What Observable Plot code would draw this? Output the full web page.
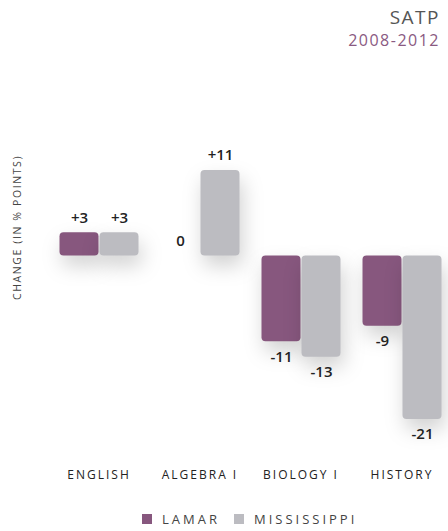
<!DOCTYPE html>
<html>
<head>
<meta charset="utf-8">
<script src="https://cdn.jsdelivr.net/npm/d3@7"></script>
<script src="https://cdn.jsdelivr.net/npm/@observablehq/plot@0.6"></script>
<style>
  html, body { margin: 0; padding: 0; background: #fff; }
  body { width: 448px; height: 531px; overflow: hidden; font-family: "Open Sans", sans-serif; }
  #title { height: 60px; text-align: right; padding-right: 8px; box-sizing: border-box; }
  #title .t1 { font-size: 19px; color: #555; letter-spacing: 1.5px; line-height: 20px; padding-top: 7px; }
  #title .t2 { font-size: 16px; color: #8a5a82; letter-spacing: 1.5px; line-height: 18px; margin-top: 4px; }
  #chart svg { display: block; overflow: visible; }
  #chart g[aria-label="bar"] rect { filter: drop-shadow(3px 10px 10px rgba(0,0,0,0.18)); }
  .fxaxis text { letter-spacing: 2px; }
  .ylab text { letter-spacing: 1.6px; }
  #legend { display: flex; justify-content: flex-start; align-items: center; margin-top: 22px; padding-left: 142px; font-size: 13px; letter-spacing: 3px; color: #444; line-height: 14px; }
  #legend .item { display: flex; align-items: center; margin-right: 14px; }
  #legend .sw { width: 10px; height: 10px; margin-right: 10px; }
</style>
</head>
<body>
<div id="title"><div class="t1">SATP</div><div class="t2">2008-2012</div></div>
<div id="chart"></div>
<div id="legend"></div>
<script>
const subjects = ["ENGLISH", "ALGEBRA I", "BIOLOGY I", "HISTORY"];
const series = ["LAMAR", "MISSISSIPPI"];
const colors = ["#87577e", "#bcbcc1"];
const lamarValues = [3, 0, -11, -9];
const mississippiValues = [3, 11, -13, -21];
const yLabel = "CHANGE (IN % POINTS)";

const data = [];
subjects.forEach((s, i) => {
  data.push({subject: s, series: series[0], value: lamarValues[i]});
  data.push({subject: s, series: series[1], value: mississippiValues[i]});
});
const fmt = v => v > 0 ? "+" + v : String(v);

const plot = Plot.plot({
  width: 448,
  height: 430,
  marginLeft: 57,
  marginRight: 5,
  marginTop: 110,
  marginBottom: 71,
  style: {fontFamily: "Open Sans, sans-serif", background: "transparent", overflow: "visible"},
  fx: {domain: subjects, padding: 0.2, axis: null},
  x: {domain: series, padding: 0, axis: null},
  y: {domain: [-21, 11], axis: null},
  color: {domain: series, range: colors},
  marks: [
    Plot.barY(data, {fx: "subject", x: "series", y: "value", fill: "series", rx: 4, insetLeft: 0.5, insetRight: 0.5}),
    Plot.text(data.filter(d => d.value >= 0), {fx: "subject", x: "series", y: "value", text: d => fmt(d.value), dy: -15, fontSize: 15, fontWeight: 600, fill: "#222"}),
    Plot.text(data.filter(d => d.value < 0), {fx: "subject", x: "series", y: "value", text: d => fmt(d.value), dy: 15, fontSize: 15, fontWeight: 600, fill: "#222"}),
    Plot.axisFx({anchor: "bottom", tickSize: 0, tickPadding: 51, label: null, fontSize: 12, fill: "#222", className: "fxaxis"}),
    Plot.text([yLabel], {fx: [subjects[0]], frameAnchor: "left", rotate: -90, dx: -41, dy: 5, fontSize: 10.5, fill: "#444", className: "ylab"})
  ]
});
document.getElementById("chart").appendChild(plot);

const legend = document.getElementById("legend");
series.forEach((s, i) => {
  const item = document.createElement("div");
  item.className = "item";
  const sw = document.createElement("span");
  sw.className = "sw";
  sw.style.background = colors[i];
  const lab = document.createElement("span");
  lab.textContent = s;
  item.appendChild(sw);
  item.appendChild(lab);
  legend.appendChild(item);
});
</script>
</body>
</html>
